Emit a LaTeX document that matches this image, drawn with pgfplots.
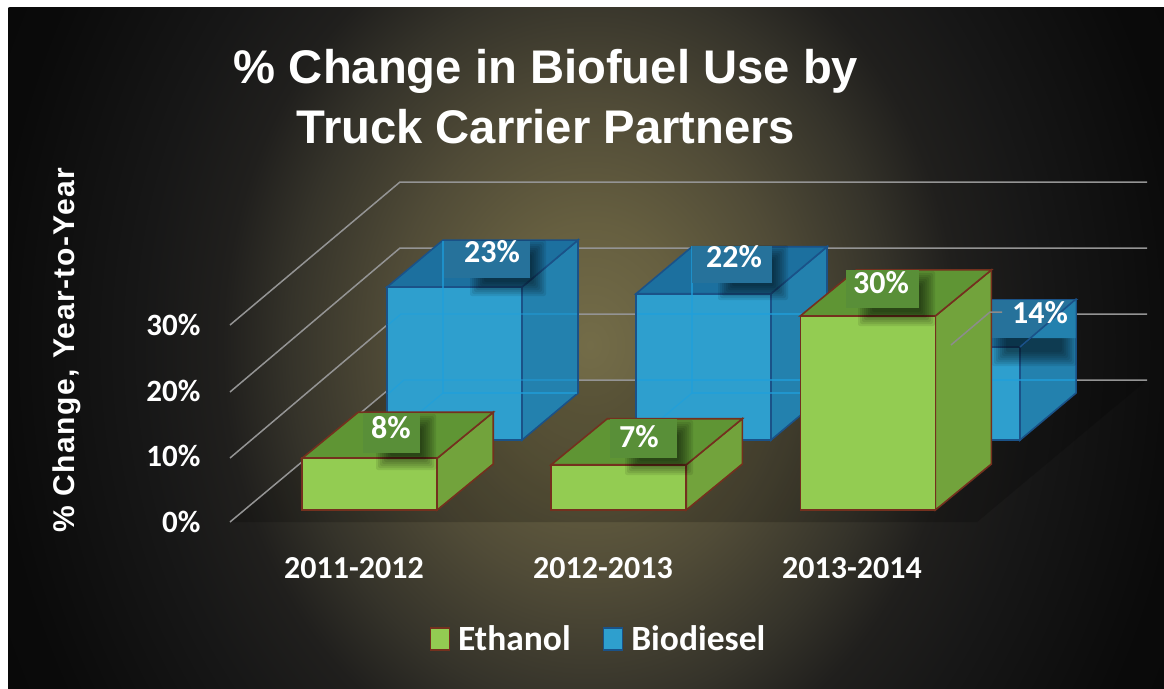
\documentclass[border=0pt]{standalone}
\usepackage{pgfplots}
\pgfplotsset{compat=1.18}
\usepackage{fontspec}
\setmainfont{Carlito}
\newfontfamily\arialb{Liberation Sans}
\newfontfamily\arialsp{Liberation Sans}[LetterSpace=5]
\definecolor{gfront}{HTML}{93CC52}
\definecolor{gside}{HTML}{72A33C}
\definecolor{gtop}{HTML}{5F9534}
\definecolor{gbox}{HTML}{598F38}
\definecolor{gedge}{HTML}{74301E}
\definecolor{bfront}{HTML}{2E9FCE}
\definecolor{bside}{HTML}{2381AE}
\definecolor{btop}{HTML}{1C709F}
\definecolor{bbox}{HTML}{26729B}
\definecolor{bedge}{HTML}{1A5288}
\definecolor{bline}{HTML}{1F9FDC}
\definecolor{c0}{HTML}{736C48}
\definecolor{c1}{HTML}{665F40}
\definecolor{c2}{HTML}{504B37}
\definecolor{c3}{HTML}{35332A}
\definecolor{c4}{HTML}{201F1D}
\definecolor{c5}{HTML}{171717}
\definecolor{c6}{HTML}{0A0A0A}
\pgfdeclareradialshading{bgshade}{\pgfpoint{0bp}{0bp}}{%
 color(0bp)=(c0);color(4.3bp)=(c1);color(8.6bp)=(c2);color(12.9bp)=(c3);color(15.8bp)=(c4);color(19.3bp)=(c5);color(25.8bp)=(c6);color(50bp)=(black)}
% a bar: #1 category, #2 value, #3 half width, #4 depth x, #5 depth y, #6 front, #7 side, #8 top, #9 edge
\newcommand{\drawbar}[9]{%
 \pgfmathsetmacro{\xa}{#1-#3}\pgfmathsetmacro{\xb}{#1+#3}%
 \pgfmathsetmacro{\xc}{\xa+#4}\pgfmathsetmacro{\xd}{\xb+#4}%
 \pgfmathsetmacro{\yt}{#2+#5}%
 \edef\tmp{\noexpand\addplot[fill=#7,draw=#9,line width=1.6pt] coordinates {(\xb,0) (\xd,#5) (\xd,\yt) (\xb,#2)} -- cycle;
  \noexpand\addplot[fill=#8,draw=#9,line width=1.6pt] coordinates {(\xa,#2) (\xb,#2) (\xd,\yt) (\xc,\yt)} -- cycle;
  \noexpand\addplot[fill=#6,draw=#9,line width=1.6pt] coordinates {(\xa,0) (\xb,0) (\xb,#2) (\xa,#2)} -- cycle;}\tmp}
\newcommand{\shadow}[4]{%
 \foreach \g in {0,2,...,14}{\fill[black,opacity=0.085,rounded corners=2pt] ({#1+\g},{#2+\g}) rectangle ({#3+16-\g},{#4+17-\g});}}
\newcommand{\plate}[8]{%
 \fill[#5] (#1,#2) rectangle (#3,#4);
 \node[text=white,font=\bfseries\fontsize{32}{32}\selectfont] at (#6,#7) {#8};}
\begin{document}
\begin{tikzpicture}[x=1pt,y=-1pt]
\useasboundingbox (0,0) rectangle (1164,688);
\fill[white] (0,0) rectangle (1164,688);
\begin{scope}
 \clip[rounded corners=3pt] (7,7) rectangle (1170,700);
 \shade[shading=bgshade] (8,-355) rectangle (1172,1045);
 \fill[black,opacity=0.18] (230,522) -- (400,380) -- (1147,380) -- (977,522) -- cycle;
\end{scope}
% wall and floor lines
\foreach \a/\b in {325/182,392/248,458/314,522/380}{
 \draw[color=white!58!black,line width=1.5pt] (230,\a) -- (400,\b) -- (1147,\b);}
% Biodiesel (rear row)
\begin{axis}[at={(0pt,-688pt)},anchor=south west,scale only axis,width=1164pt,height=688pt,hide axis,clip=false,
 xmin=-1.8253,xmax=2.8494,ymin=-37.29,ymax=66.17]
 \drawbar{0}{23}{0.271}{0.225}{7.07}{bfront}{bside}{btop}{bedge}
 \drawbar{1}{22}{0.271}{0.225}{7.07}{bfront}{bside}{btop}{bedge}
 \drawbar{2}{14}{0.271}{0.225}{7.07}{bfront}{bside}{btop}{bedge}
\end{axis}
% gridlines seen through the blue bars
\begin{scope}[bline,line width=1.3pt,opacity=.7]
 \draw (388,325) -- (401,314) -- (577,314);
 \draw (388,394) -- (404,380) -- (577,380);
 \draw (443,241) -- (443,393) -- (577,393);
 \draw (443,393) -- (388,439);
 \draw (637,314) -- (826,314);
 \draw (637,380) -- (826,380);
 \draw (692,246) -- (692,393) -- (826,393);
 \draw (692,393) -- (637,439);
 \draw (992,380) -- (1075,380);
\end{scope}
\shadow{470}{240}{530}{279}
\plate{444}{241}{530}{278}{bbox}{492}{252}{23\%}
\shadow{718}{245}{772}{283}
\plate{692}{246}{772}{283}{bbox}{734}{257}{22\%}
\shadow{992}{300}{1060}{349}
\plate{992}{300}{1075}{338}{bbox}{1040}{313}{}
\fill[bside] (1075.5,300) -- (1075.5,338) -- (1031,338) -- cycle;
\draw[bedge,line width=1.6pt] (1020,347) -- (1076,299);
\node[text=white,font=\bfseries\fontsize{32}{32}\selectfont] at (1040,313) {14\%};
% Ethanol (front row)
\begin{axis}[at={(0pt,-688pt)},anchor=south west,scale only axis,width=1164pt,height=688pt,hide axis,clip=false,
 xmin=-1.4839,xmax=3.1888,ymin=-27.51,ymax=78.83]
 \drawbar{0}{8}{0.271}{0.225}{7.11}{gfront}{gside}{gtop}{gedge}
 \drawbar{1}{7}{0.271}{0.225}{7.11}{gfront}{gside}{gtop}{gedge}
 \drawbar{2}{30}{0.271}{0.225}{7.11}{gfront}{gside}{gtop}{gedge}
\end{axis}
\shadow{376}{414}{420}{453}
\plate{363}{413}{420}{453}{gbox}{391}{428}{8\%}
\shadow{625}{420}{677}{458}
\plate{610}{419}{677}{458}{gbox}{639}{437}{7\%}
\shadow{858}{271}{919}{309}
\plate{846}{270}{919}{308}{gbox}{881}{283}{30\%}
\draw[color=white!55!black,line width=1.5pt] (951,345) -- (990,312) -- (1002,312);
% axis text
\begin{axis}[at={(230pt,-522pt)},anchor=south west,scale only axis,width=917pt,height=197pt,clip=false,
 xmin=-0.498,xmax=3.185,ymin=0,ymax=30,
 axis line style={draw=none},major tick length=0pt,
 xtick={0,1,2},xticklabels={2011-2012,2012-2013,2013-2014},
 ytick={0,10,20,30},yticklabels={0\%,10\%,20\%,30\%},
 x tick label style={text=white,font=\bfseries\fontsize{32}{32}\selectfont,yshift=-32pt},
 y tick label style={text=white,font=\bfseries\fontsize{31}{31}\selectfont,xshift=-26pt},
 ylabel={\% Change, Year-to-Year},
 ylabel style={at={(axis description cs:-0.1777,0.873)},anchor=center,text=white,font=\arialsp\bfseries\fontsize{30}{30}\selectfont},
 title={\% Change in Biofuel Use by\\Truck Carrier Partners},
 title style={at={(axis description cs:0.3446,2.127)},anchor=center,align=center,text=white,font=\arialb\bfseries\fontsize{47.2}{60}\selectfont},
 legend columns=2,
 legend style={at={(axis description cs:0.4018,-0.594)},anchor=center,draw=none,fill=none,text=white,
  font=\bfseries\fontsize{35.5}{35.5}\selectfont,
  /tikz/every even column/.append style={column sep=30pt},
  /tikz/every odd column/.append style={column sep=6pt}},
 legend image code/.code={\draw[#1] (0pt,-11pt) rectangle (19pt,11pt);},
]
 \addlegendimage{fill=gfront,draw=gedge,line width=1.6pt}
 \addlegendentry{Ethanol}
 \addlegendimage{fill=bfront,draw=bedge,line width=1.6pt}
 \addlegendentry{Biodiesel}
\end{axis}
\end{tikzpicture}
\end{document}
